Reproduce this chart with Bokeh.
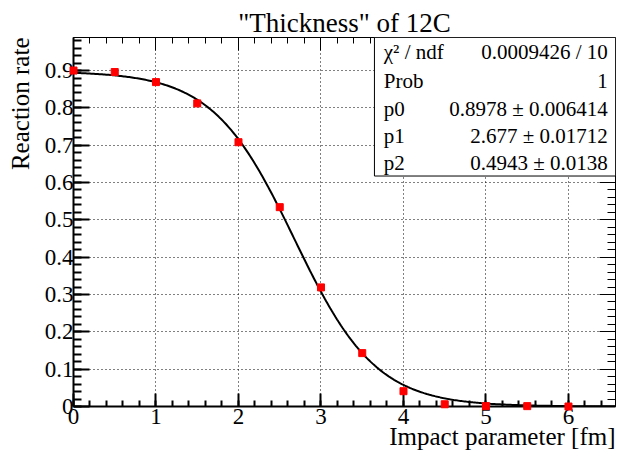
import numpy as np
from bokeh.plotting import figure
from bokeh.models import (LinearAxis, FixedTicker, BoxAnnotation, Label, Range1d,
                          CustomJSTickFormatter, Title)
from bokeh.embed import file_html
from bokeh.resources import INLINE

# ---- data ----
impact = [0, 0.5, 1, 1.5, 2, 2.5, 3, 3.5, 4, 4.5, 5, 5.5, 6]
rate = [0.900, 0.896, 0.869, 0.812, 0.708, 0.534, 0.319, 0.143, 0.041, 0.006, 0.001, 0.001, 0.0]

# fit parameters shown in the stats box (Fermi function p0/(1+exp((x-p1)/p2)))
fit_p0 = 0.8978
fit_p1 = 2.677
fit_p2 = 0.4943

stat_names = ["\u03c7\u00b2 / ndf", "Prob", "p0", "p1", "p2"]
stat_values = ["0.0009426 / 10", "1", "0.8978 \u00b1 0.006414",
               "2.677 \u00b1 0.01712", "0.4943 \u00b1 0.0138"]

x_ticks = [0, 1, 2, 3, 4, 5, 6]
x_tick_labels = ["0", "1", "2", "3", "4", "5", "6"]
y_ticks = [0, 0.1, 0.2, 0.3, 0.4, 0.5, 0.6, 0.7, 0.8, 0.9]
y_tick_labels = ["0", "0.1", "0.2", "0.3", "0.4", "0.5", "0.6", "0.7", "0.8", "0.9"]

title_text = '"Thickness" of 12C'
x_title = "Impact parameter [fm]"
y_title = "Reaction rate"

# ---- layout / style ----
X_MAX = 6.57
Y_MAX = 0.9885
FONT = "Liberation Serif"

p = figure(width=617, height=459, x_range=Range1d(0, X_MAX), y_range=Range1d(0, Y_MAX),
           output_backend="svg", toolbar_location=None, title=title_text,
           min_border_left=73, min_border_right=2, min_border_top=37, min_border_bottom=53)
p.background_fill_color = "white"
p.border_fill_color = "white"
p.outline_line_color = None

p.title.text_font = FONT
p.title.text_font_size = "27px"
p.title.text_font_style = "normal"
p.title.text_color = "black"
p.title.align = "center"
p.title.standoff = 0

x_minor = list(np.round(np.arange(0, X_MAX, 0.2), 4))
y_minor = list(np.round(np.arange(0, Y_MAX, 0.02), 4))
xt = FixedTicker(ticks=x_ticks, minor_ticks=x_minor)
yt = FixedTicker(ticks=y_ticks, minor_ticks=y_minor)

def style_axis(ax, ticker, major, minor, width):
    ax.ticker = ticker
    ax.axis_line_color = "black"
    ax.axis_line_width = width
    ax.major_tick_line_color = "black"
    ax.major_tick_line_width = width
    ax.minor_tick_line_color = "black"
    ax.minor_tick_line_width = width
    ax.major_tick_in = major
    ax.major_tick_out = 0
    ax.minor_tick_in = minor
    ax.minor_tick_out = 0
    ax.major_label_standoff = 0
    ax.major_label_text_font = FONT
    ax.major_label_text_color = "black"
    ax.major_label_text_font_size = "23px"

xa = p.xaxis[0]
ya = p.yaxis[0]
style_axis(xa, xt, 13, 6, 2)
style_axis(ya, yt, 16, 8, 2)
xa.major_label_standoff = 2
xa.major_label_overrides = dict(zip(x_ticks, x_tick_labels))
ya.major_label_overrides = dict(zip(y_ticks, y_tick_labels))

blank = CustomJSTickFormatter(code="return ''")
top_ax = LinearAxis(formatter=blank)
right_ax = LinearAxis(formatter=blank)
style_axis(top_ax, xt, 13, 6, 1)
style_axis(right_ax, yt, 16, 8, 1)
top_ax.major_label_text_font_size = "0px"
right_ax.major_label_text_font_size = "0px"
top_ax.major_label_standoff = 4
p.add_layout(top_ax, "above")
p.add_layout(right_ax, "right")

for g, t in ((p.xgrid[0], xt), (p.ygrid[0], yt)):
    g.ticker = t
    g.grid_line_color = "black"
    g.grid_line_width = 1
    g.grid_line_dash = "1 3"

# axis titles (ROOT style: aligned to the far end of the axis)
p.add_layout(Title(text=x_title, text_font=FONT, text_font_size="25px",
                   text_font_style="normal", text_color="black", align="right",
                   vertical_align="top", standoff=-8), "below")
p.add_layout(Title(text=y_title, text_font=FONT, text_font_size="25px",
                   text_font_style="normal", text_color="black", align="right",
                   vertical_align="top", standoff=12), "left")

# fit curve and data points
xs = np.linspace(0, X_MAX, 400)
ys = fit_p0 / (1.0 + np.exp((xs - fit_p1) / fit_p2))
p.line(xs, ys, line_color="black", line_width=2)
p.scatter(impact, rate, marker="square", size=7, fill_color="red", line_color="red",
          level="overlay")

# stats box
p.add_layout(BoxAnnotation(left=3.648, right=X_MAX, bottom=0.6174, top=Y_MAX,
                           fill_color="white", fill_alpha=1.0, line_color="black",
                           line_width=1, line_alpha=1.0))
row_y = [0.950, 0.872, 0.798, 0.724, 0.651]
for name, val, yy in zip(stat_names, stat_values, row_y):
    p.add_layout(Label(x=3.761, y=yy, text=name, text_font=FONT, text_font_size="21px",
                       text_align="left", text_baseline="middle", text_color="black"))
    p.add_layout(Label(x=6.476, y=yy, text=val, text_font=FONT, text_font_size="21px",
                       text_align="right", text_baseline="middle", text_color="black"))

open("out.html", "w").write(file_html(p, INLINE))
